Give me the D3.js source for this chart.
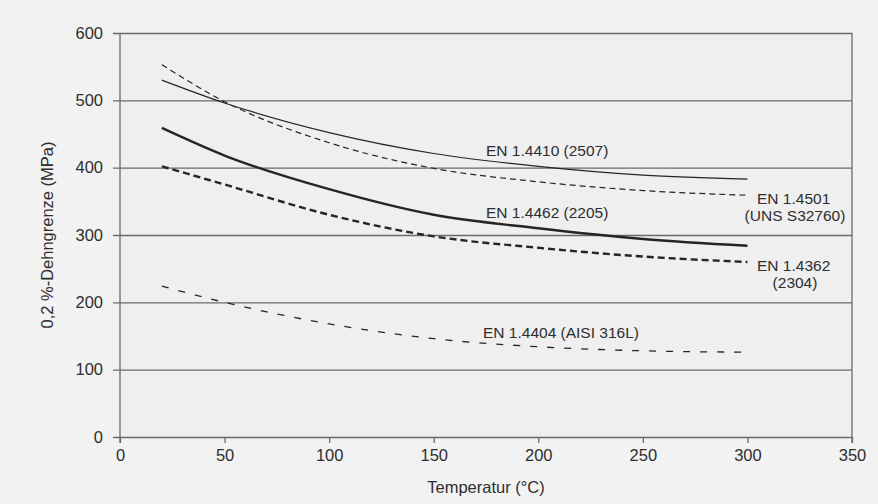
<!DOCTYPE html>
<html><head><meta charset="utf-8">
<script src="https://cdn.jsdelivr.net/npm/d3@7"></script>
<style>
html,body{margin:0;padding:0;background:#f2f2f2;}
svg{display:block;font-family:"Liberation Sans",Arial,Helvetica,sans-serif;}
</style></head>
<body><svg id="chart" width="878" height="504"></svg>
<script>
const temps = [20, 50, 100, 150, 200, 250, 300];
const en14410 = [530, 496, 452, 421, 402, 389, 383];
const en14501 = [553, 498, 437, 399, 379, 366, 359];
const en14462 = [459, 418, 368, 330, 310, 294, 284];
const en14362 = [402, 375, 330, 298, 281, 268, 260];
const en14404 = [224, 200, 168, 146, 134, 128, 126];
const xTicks = [0, 50, 100, 150, 200, 250, 300, 350];
const yTicks = [0, 100, 200, 300, 400, 500, 600];

const svg = d3.select("#chart");
const W = 878, H = 504;
const m = {left:120, right:26, top:33, bottom:67};
svg.append("rect").attr("width",W).attr("height",H).attr("fill","#f2f2f2");

const x = d3.scaleLinear().domain([0,350]).range([m.left, W - m.right]);
const y = d3.scaleLinear().domain([0,600]).range([H - m.bottom, m.top]);

svg.append("rect").attr("x",x(0)).attr("y",y(600)).attr("width",x(350)-x(0)).attr("height",y(0)-y(600))
  .attr("fill","#efefef");

const yAxis = d3.axisLeft(y).tickValues(yTicks).tickSize(-(x(350)-x(0)) ).tickPadding(10);
const gy = svg.append("g").attr("transform",`translate(${x(0)},0)`).call(yAxis);
gy.select(".domain").remove();
gy.selectAll(".tick line").attr("stroke","#6a6a6a").attr("stroke-width",1.3).attr("x1",-7);
gy.selectAll(".tick text").attr("fill","#2e2e2e").attr("font-size",16.5).attr("x",-17);

const xAxis = d3.axisBottom(x).tickValues(xTicks).tickSize(6).tickPadding(6);
const gx = svg.append("g").attr("transform",`translate(0,${y(0)})`).call(xAxis);
gx.select(".domain").remove();
gx.selectAll(".tick line").attr("stroke","#6a6a6a").attr("stroke-width",1.3);
gx.selectAll(".tick text").attr("fill","#2e2e2e").attr("font-size",16.5);

svg.append("line").attr("x1",x(0)).attr("x2",x(0)).attr("y1",y(600)).attr("y2",y(0)+6)
  .attr("stroke","#6a6a6a").attr("stroke-width",1.3);
svg.append("line").attr("x1",x(350)).attr("x2",x(350)).attr("y1",y(600)).attr("y2",y(0)+6)
  .attr("stroke","#6a6a6a").attr("stroke-width",1.3);

const series = [
  {name:"EN 1.4410", vals:en14410, w:1.2, dash:null},
  {name:"EN 1.4501", vals:en14501, w:1.2, dash:"6,4"},
  {name:"EN 1.4462", vals:en14462, w:2.4, dash:null},
  {name:"EN 1.4362", vals:en14362, w:2.4, dash:"7,4"},
  {name:"EN 1.4404", vals:en14404, w:1.3, dash:"7,10"}
];
const line = d3.line().x(d=>x(d[0])).y(d=>y(d[1])).curve(d3.curveMonotoneX);
series.forEach(s=>{
  svg.append("path").datum(temps.map((t,i)=>[t,s.vals[i]]))
    .attr("d",line).attr("fill","none").attr("stroke","#252525")
    .attr("stroke-width",s.w).attr("stroke-dasharray",s.dash);
});

const labels = [
  {t:"EN 1.4410 (2507)", x:486, y:156, a:"start"},
  {t:"EN 1.4462 (2205)", x:486, y:218, a:"start"},
  {t:"EN 1.4501", x:757, y:204, a:"start"},
  {t:"(UNS S32760)", x:795, y:221, a:"middle"},
  {t:"EN 1.4362", x:757, y:271, a:"start"},
  {t:"(2304)", x:795, y:288, a:"middle"},
  {t:"EN 1.4404 (AISI 316L)", x:483, y:338, a:"start"}
];
svg.selectAll("text.lbl").data(labels).enter().append("text").attr("class","lbl")
  .attr("x",d=>d.x).attr("y",d=>d.y).attr("text-anchor",d=>d.a)
  .attr("font-size",15.5).attr("fill","#2e2e2e").text(d=>d.t);

svg.append("text").attr("x",(x(0)+x(350))/2).attr("y",493).attr("text-anchor","middle")
  .attr("font-size",16.5).attr("fill","#2e2e2e").text("Temperatur (°C)");
svg.append("text").attr("transform",`translate(53,${(y(0)+y(600))/2}) rotate(-90)`)
  .attr("text-anchor","middle").attr("font-size",16.5).attr("fill","#2e2e2e").text("0,2 %-Dehngrenze (MPa)");
</script></body></html>
